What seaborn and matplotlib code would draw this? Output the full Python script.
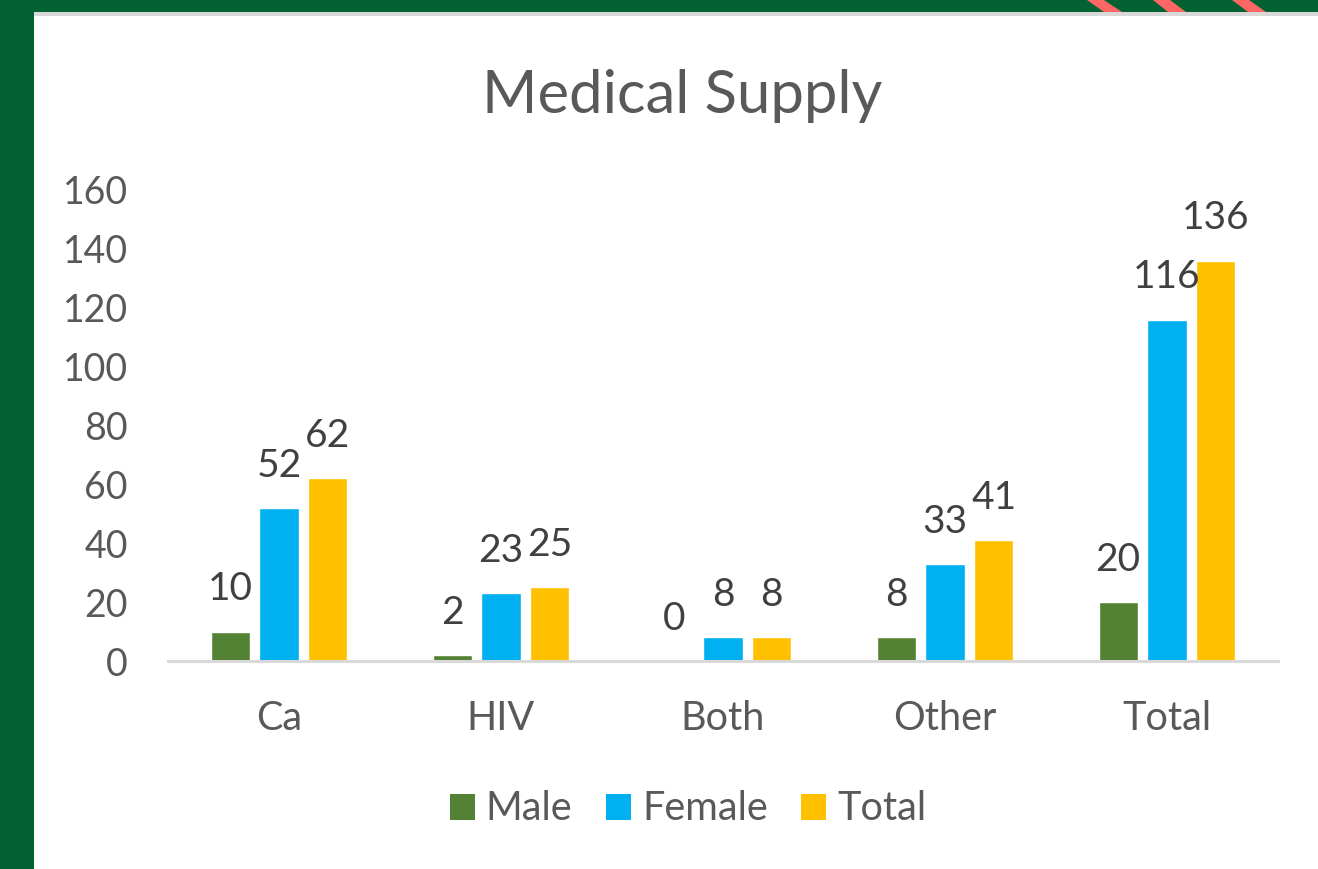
import matplotlib
matplotlib.use("Agg")
import matplotlib.pyplot as plt
import seaborn as sns
import pandas as pd
from matplotlib.patches import Rectangle, Polygon, Patch

categories = ["Ca", "HIV", "Both", "Other", "Total"]
male = [10, 2, 0, 8, 20]
female = [52, 23, 8, 33, 116]
total = [62, 25, 8, 41, 136]
series_names = ["Male", "Female", "Total"]
colors = ["#548235", "#00B0F0", "#FFC000"]
yticks = [0, 20, 40, 60, 80, 100, 120, 140, 160]

rows = []
for name, vals in zip(series_names, [male, female, total]):
    for c, v in zip(categories, vals):
        rows.append({"Category": c, "Series": name, "Value": v})
df = pd.DataFrame(rows)

sns.set_theme(style="white")
plt.rcParams["font.family"] = ["Lato", "DejaVu Sans"]
TXT = "#595959"

W, H = 1318, 869
fig = plt.figure(figsize=(W / 100, H / 100), dpi=100)
fig.patch.set_facecolor("#036232")

# white panel and gray strip
fig.add_artist(Rectangle((34 / W, 0), 1 - 34 / W, (H - 16) / H, transform=fig.transFigure,
                         facecolor="white", edgecolor="none", zorder=0))
fig.add_artist(Rectangle((34 / W, (H - 16) / H), 1 - 34 / W, 4 / H, transform=fig.transFigure,
                         facecolor="#D9D9D9", edgecolor="none", zorder=0))
# decorative coral strokes in top band
for x0, x1 in [(1087, 1122), (1153, 1186), (1232, 1266)]:
    pts = [(x0 / W, 1), ((x0 + 17) / W, 1), (x1 / W, (H - 12) / H), ((x1 - 18) / W, (H - 12) / H)]
    fig.add_artist(Polygon(pts, closed=True, transform=fig.transFigure,
                           facecolor="#FF6666", edgecolor="none", zorder=1))

ax = fig.add_axes([168 / W, 1 - 661 / H, (1278 - 168) / W, (661 - 190) / H])
ax.set_facecolor("none")
sns.barplot(data=df, x="Category", y="Value", hue="Series", palette=colors,
            width=0.66, gap=0.2, ax=ax, legend=False, saturation=1)

ax.set_xlim(-0.5, 4.5)
ax.set_ylim(0, 160)
ax.set_yticks(yticks)
ax.set_xlabel("")
ax.set_ylabel("")
for s in ["top", "right", "left"]:
    ax.spines[s].set_visible(False)
ax.spines["bottom"].set_color("#D9D9D9")
ax.spines["bottom"].set_linewidth(2.2)
ax.tick_params(axis="both", length=0, colors=TXT)
ax.tick_params(axis="y", pad=29, labelsize=27)
ax.tick_params(axis="x", pad=28, labelsize=28.5)
ax.grid(False)

for cont in ax.containers:
    ax.bar_label(cont, fmt="%d", padding=17.5, fontsize=28, color="#404040")

fig.text(682 / W, 1 - 113 / H, "Medical Supply", ha="center", va="baseline",
         fontsize=43, color=TXT)

handles = [Patch(facecolor=c, edgecolor="none") for c in colors]
fig.legend(handles, series_names, loc="center", bbox_to_anchor=(688 / W, 1 - 809 / H),
           ncol=3, frameon=False, fontsize=28.5, labelcolor=TXT,
           handlelength=0.63, handleheight=0.63, handletextpad=0.28, columnspacing=0.85)

fig.savefig("out.png", dpi=100, facecolor=fig.get_facecolor())
